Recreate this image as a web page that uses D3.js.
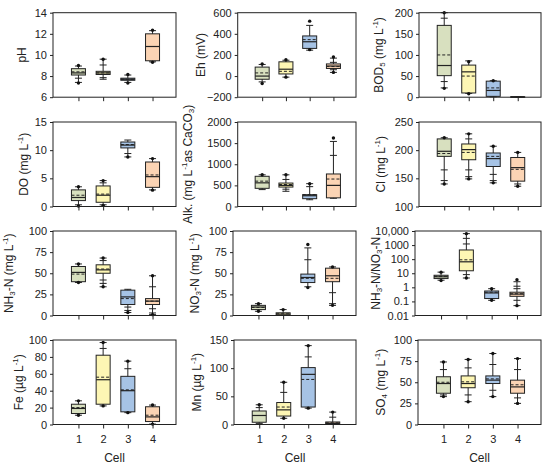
<!DOCTYPE html>
<html><head><meta charset="utf-8">
<script src="https://cdn.jsdelivr.net/npm/d3@7"></script>
<style>
body{margin:0;background:#fff}
svg{display:block}
text{font-family:"Liberation Sans",Arial,sans-serif;fill:#222}
</style>
</head><body>
<svg id="c" width="550" height="467"></svg>
<script>
const cells = [1, 2, 3, 4];
const cellColors = ["#d8e0bf", "#fdf6b4", "#a6c3e5", "#fbd4b4"];

// Each cell: [lo, q1, median, mean, q3, hi, extra caps, outlier dots]
const pHBoxes = [
  [7.4, 8.1, 8.3, 8.4, 8.7, 8.95, [7.8], [7.35, 9.0]],
  [7.7, 8.15, 8.3, 8.3, 8.45, 9.6, [7.85, 9.05], [9.6]],
  [7.4, 7.6, 7.7, 7.7, 7.8, 8.1, [], [7.35, 8.15]],
  [9.35, 9.45, 10.8, 10.8, 12.0, 12.3, [], [9.3, 12.35]]
];
const ehBoxes = [
  [-55, -30, 0, 30, 85, 110, [], [-70, 115]],
  [-10, 20, 65, 45, 135, 150, [], [-10, 155]],
  [245, 262, 325, 345, 380, 480, [], [520, 250]],
  [35, 72, 95, 90, 115, 170, [60, 130], [35, 180]]
];
const bodBoxes = [
  [22, 51, 75, 100, 170, 200, [187, 37], [21, 200]],
  [9, 10, 60, 50, 76, 86, [], [8, 84]],
  [1, 2, 16, 22, 38, 39, [], [39]],
  [0, 0.3, 0.6, 0.6, 1, 1.2, [], []]
];
const doBoxes = [
  [0.3, 1.05, 1.6, 2.0, 2.95, 3.5, [], [0.1, 3.5]],
  [0.3, 0.75, 2.0, 2.2, 3.65, 4.6, [4.2], [0.2, 4.6]],
  [8.8, 10.4, 10.9, 11.0, 11.45, 11.8, [9.4], [8.8]],
  [2.95, 3.4, 5.3, 5.6, 7.9, 8.5, [], [2.9, 8.5]]
];
const alkBoxes = [
  [400, 430, 560, 600, 715, 750, [], [750]],
  [360, 460, 500, 520, 555, 750, [640, 410], [750]],
  [160, 185, 255, 280, 280, 540, [470], [540]],
  [195, 205, 500, 650, 770, 1540, [1210], [1620]]
];
const clBoxes = [
  [140, 189, 198, 194, 220, 222, [165, 146], [140, 222]],
  [149, 183, 201, 196, 211, 229, [220, 165, 153], [149, 229]],
  [142, 171, 185, 189, 195, 207, [157, 146], [142, 207]],
  [136, 145, 169, 166, 187, 196, [140], [136, 196]]
];
const nh3Boxes = [
  [39, 40, 51, 49, 58, 61, [], [39, 61]],
  [34, 50, 54, 55, 60, 68, [65, 42, 38], [34, 68]],
  [3.5, 13, 22, 20, 30, 31, [10, 6], [3.5]],
  [1, 13, 17, 17, 20, 47, [34, 8, 3], [1, 47]]
];
const no3Boxes = [
  [5, 7, 10, 9.5, 12, 14, [], [5, 14]],
  [0, 0.2, 1.6, 2, 3.2, 7, [], [7]],
  [34, 39, 45, 44, 49, 80, [66], [33, 84]],
  [12, 40, 47, 44, 56, 57.5, [27, 14], [12, 57.5]]
];
const ratioBoxes = [
  [3.2, 4.2, 5.6, 6, 7.2, 12, [], [3, 12]],
  [4.6, 15, 65, 90, 450, 6500, [3000, 1200, 8], [4.6, 6500]],
  [0.12, 0.16, 0.4, 0.45, 0.55, 0.8, [], [0.12, 0.8]],
  [0.05, 0.23, 0.33, 0.35, 0.45, 2.5, [1.2, 0.8, 0.12], [0.05, 3.5]]
];
const feBoxes = [
  [11, 13, 19, 20, 24, 28, [], [11, 28]],
  [22, 24, 53, 56, 82, 97, [90], [22, 97]],
  [14, 15, 40, 41, 57, 75, [66], [14, 75]],
  [0.5, 3.5, 9, 11, 21, 23, [], [0.5, 23]]
];
const mnBoxes = [
  [2, 4, 16, 16, 24, 35, [30], [35]],
  [11, 15, 26, 31, 39, 75, [57], [11, 75]],
  [29, 31, 89, 80, 101, 140, [120], [29, 140]],
  [0, 0.5, 2, 3, 4.5, 22, [13], [22]]
];
const so4Boxes = [
  [33, 37, 48.5, 50, 56.5, 74, [65, 35], [33, 74]],
  [27, 43.5, 48.5, 50.5, 57.5, 77, [67, 35], [27, 77]],
  [33, 48.5, 52.5, 54, 57.5, 84, [71, 40.5], [33, 84]],
  [25, 37, 44.5, 47, 52.5, 78, [65, 31.5], [25, 78]]
];

const pHTicks = [6, 8, 10, 12, 14];
const ehTicks = [-200, 0, 200, 400, 600];
const bodTicks = [0, 50, 100, 150, 200];
const doTicks = [0, 5, 10, 15];
const alkTicks = [0, 500, 1000, 1500, 2000];
const clTicks = [100, 150, 200, 250];
const nh3Ticks = [0, 25, 50, 75, 100];
const no3Ticks = [0, 25, 50, 75, 100];
const ratioTicks = [0.01, 0.1, 1, 10, 100, 1000, 10000];
const ratioTickLabels = ["0.01", "0.1", "1", "10", "100", "1000", "10,000"];
const feTicks = [0, 20, 40, 60, 80, 100];
const mnTicks = [0, 50, 100, 150];
const so4Ticks = [0, 25, 50, 75, 100];

// title parts: [text, kind] kind: "" | "sub" | "sup"
const titles = [
  [["pH", ""]],
  [["Eh (mV)", ""]],
  [["BOD", ""], ["5", "sub"], [" (mg L", ""], ["-1", "sup"], [")", ""]],
  [["DO (mg L", ""], ["-1", "sup"], [")", ""]],
  [["Alk. (mg L", ""], ["-1", "sup"], ["as CaCO", ""], ["3", "sub"], [")", ""]],
  [["Cl (mg L", ""], ["-1", "sup"], [")", ""]],
  [["NH", ""], ["3", "sub"], ["-N (mg L", ""], ["-1", "sup"], [")", ""]],
  [["NO", ""], ["3", "sub"], ["-N (mg L", ""], ["-1", "sup"], [")", ""]],
  [["NH", ""], ["3", "sub"], ["-N/NO", ""], ["3", "sub"], ["-N", ""]],
  [["Fe (\u00b5g L", ""], ["-1", "sup"], [")", ""]],
  [["Mn (\u00b5g L", ""], ["-1", "sup"], [")", ""]],
  [["SO", ""], ["4", "sub"], [" (mg L", ""], ["-1", "sup"], [")", ""]]
];

const panels = [
  {data: pHBoxes, ticks: pHTicks},
  {data: ehBoxes, ticks: ehTicks},
  {data: bodBoxes, ticks: bodTicks},
  {data: doBoxes, ticks: doTicks},
  {data: alkBoxes, ticks: alkTicks},
  {data: clBoxes, ticks: clTicks},
  {data: nh3Boxes, ticks: nh3Ticks},
  {data: no3Boxes, ticks: no3Ticks},
  {data: ratioBoxes, ticks: ratioTicks, labels: ratioTickLabels, log: true},
  {data: feBoxes, ticks: feTicks},
  {data: mnBoxes, ticks: mnTicks},
  {data: so4Boxes, ticks: so4Ticks}
];

// layout
const rowTop = [12.7, 122, 231, 340];
const rowH = 84.5;
const colLeft = [[53, 237.7, 419], [53, 237.7, 419], [53, 233, 415], [53, 234, 418]];
const colRight = [176, 356, 541];
const titleX = [23, 202, 380, 25, 189, 382, 10, 196, 377, 20, 198, 382];

const svg = d3.select("#c");
const boxW = 14, capW = 7;

panels.forEach((p, i) => {
  const row = Math.floor(i / 3), col = i % 3;
  const L = colLeft[row][col], R = colRight[col], T = rowTop[row], B = T + rowH;
  const g = svg.append("g");
  const x = d3.scaleLinear().domain([-0.03, 4.95]).range([L, R]);
  const y = (p.log ? d3.scaleLog() : d3.scaleLinear())
    .domain(d3.extent(p.ticks)).range([B, T]);

  const ya = d3.axisLeft(y).tickValues(p.ticks).tickSize(3).tickPadding(3)
    .tickFormat((d, k) => p.labels ? p.labels[k] : d3.format("")(d));
  const yg = g.append("g").attr("transform", `translate(${L},0)`).call(ya);
  yg.select(".domain").remove();
  yg.selectAll("text").style("font-size", "11px").attr("fill", "#222");
  yg.selectAll("line").attr("stroke", "#222");

  const xa = d3.axisBottom(x).tickValues(cells).tickSize(4).tickPadding(7)
    .tickFormat(row === 3 ? d => d : () => "");
  const xg = g.append("g").attr("transform", `translate(0,${B})`).call(xa);
  xg.select(".domain").remove();
  xg.selectAll("text").style("font-size", "11px").attr("fill", "#222");
  xg.selectAll("line").attr("stroke", "#222");

  // boxes
  p.data.forEach((d, k) => {
    const [lo, q1, med, mean, q3, hi, caps, dots] = d;
    const cx = x(cells[k]);
    const bg = g.append("g").attr("stroke", "#222").attr("stroke-width", 1);
    bg.append("line").attr("x1", cx).attr("x2", cx).attr("y1", y(lo)).attr("y2", y(hi));
    [lo, hi].concat(caps).forEach(v => {
      bg.append("line").attr("x1", cx - capW / 2).attr("x2", cx + capW / 2)
        .attr("y1", y(v)).attr("y2", y(v));
    });
    bg.append("rect").attr("x", cx - boxW / 2).attr("width", boxW)
      .attr("y", y(q3)).attr("height", Math.max(0.5, y(q1) - y(q3)))
      .attr("fill", cellColors[k]);
    bg.append("line").attr("x1", cx - boxW / 2).attr("x2", cx + boxW / 2)
      .attr("y1", y(med)).attr("y2", y(med)).attr("stroke-width", 1.2);
    bg.append("line").attr("x1", cx - boxW / 2).attr("x2", cx + boxW / 2)
      .attr("y1", y(mean)).attr("y2", y(mean)).attr("stroke-dasharray", "3,2");
    dots.forEach(v => {
      bg.append("circle").attr("cx", cx).attr("cy", y(v)).attr("r", 1.7)
        .attr("fill", "#111").attr("stroke", "none");
    });
  });

  // frame
  g.append("rect").attr("x", L).attr("y", T).attr("width", R - L).attr("height", B - T)
    .attr("fill", "none").attr("stroke", "#222").attr("stroke-width", 1);

  // title
  const tx = titleX[i], ty = (T + B) / 2;
  const t = g.append("text").attr("transform", `translate(${tx},${ty}) rotate(-90)`)
    .attr("text-anchor", "middle").attr("dominant-baseline", "middle")
    .style("font-size", "12px");
  let shift = 0;
  titles[i].forEach(([s, kind]) => {
    const target = kind === "sub" ? 3 : kind === "sup" ? -4 : 0;
    const ts = t.append("tspan").text(s).attr("dy", target - shift);
    if (kind) ts.style("font-size", "8px");
    shift = target;
  });

  if (row === 3) {
    g.append("text").attr("x", (L + R) / 2).attr("y", 462).attr("text-anchor", "middle")
      .style("font-size", "12px").text("Cell");
  }
});
</script>
</body></html>
